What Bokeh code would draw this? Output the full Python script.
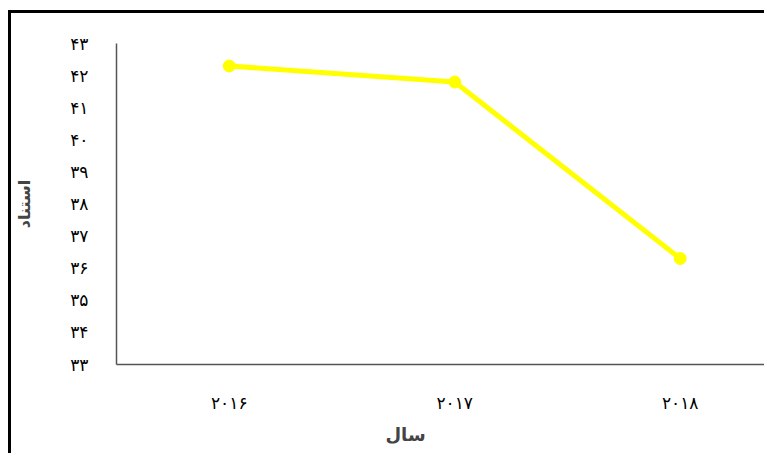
from bokeh.plotting import figure
from bokeh.models import Range1d, FixedTicker, Title
from bokeh.embed import file_html
from bokeh.resources import INLINE

years = [2016, 2017, 2018]
year_labels = ["۲۰۱۶", "۲۰۱۷", "۲۰۱۸"]
citations = [42.3, 41.8, 36.3]
y_ticks = [33, 34, 35, 36, 37, 38, 39, 40, 41, 42, 43]
y_labels = ["۳۳", "۳۴", "۳۵", "۳۶", "۳۷", "۳۸", "۳۹", "۴۰", "۴۱", "۴۲", "۴۳"]
x_title = "سال"
y_title = "استناد"

FONT = "DejaVu Sans"

p = figure(width=756, height=443,
           x_range=Range1d(2015.5, 2018.387), y_range=Range1d(33, 43),
           output_backend="svg", toolbar_location=None,
           min_border_left=105, min_border_right=0,
           min_border_top=30, min_border_bottom=92)
p.styles = {"margin-left": "8px", "margin-top": "10px",
            "border-left": "3px solid black", "border-top": "3px solid black"}

p.xgrid.visible = False
p.ygrid.visible = False
p.outline_line_color = None
p.background_fill_color = "white"
p.border_fill_color = "white"

p.line(years, citations, line_color="#FFFF00", line_width=5)
p.scatter(years, citations, size=12, fill_color="#FFFF00", line_color="#FFFF00")

for ax in (p.xaxis[0], p.yaxis[0]):
    ax.axis_line_color = "#555555"
    ax.axis_line_width = 1.5
    ax.major_tick_line_color = None
    ax.minor_tick_line_color = None
    ax.major_label_text_font = FONT
    ax.major_label_text_font_size = "17px"
    ax.major_label_text_color = "black"

p.xaxis.ticker = FixedTicker(ticks=years)
p.xaxis.major_label_overrides = {y: l for y, l in zip(years, year_labels)}
p.xaxis.major_label_standoff = 22

p.yaxis.ticker = FixedTicker(ticks=y_ticks)
p.yaxis.major_label_overrides = {t: l for t, l in zip(y_ticks, y_labels)}
p.yaxis.major_label_standoff = 22
p.yaxis.axis_label = y_title
p.yaxis.axis_label_text_font = FONT
p.yaxis.axis_label_text_font_style = "bold"
p.yaxis.axis_label_text_font_size = "16px"
p.yaxis.axis_label_standoff = 33

t = Title(text=x_title, align="left", offset=269, standoff=13,
          text_font=FONT, text_font_style="bold", text_font_size="18px")
p.add_layout(t, "below")

open("out.html", "w").write(file_html(p, INLINE))
